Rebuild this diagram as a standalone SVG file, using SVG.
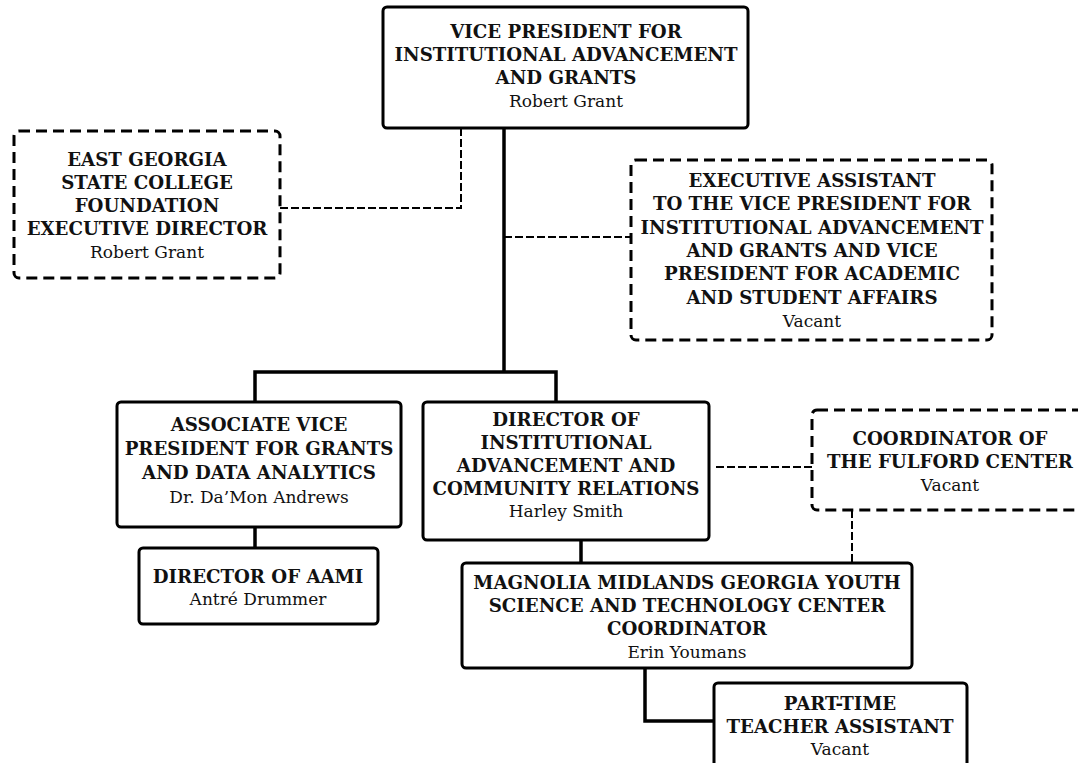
<svg xmlns="http://www.w3.org/2000/svg" width="1078" height="763" viewBox="0 0 1078 763">
<style>
.box{fill:#fff;stroke:#000;stroke-width:3}
.dbox{fill:#fff;stroke:#000;stroke-width:3;stroke-dasharray:11 6}
.t{font-family:"DejaVu Serif","Liberation Serif",serif;font-weight:bold;font-size:18.2px;text-anchor:middle;fill:#111}
.n{font-family:"DejaVu Serif","Liberation Serif",serif;font-size:17px;text-anchor:middle;fill:#111}
.solid{fill:none;stroke:#000;stroke-width:3.5}
.dash{fill:none;stroke:#000;stroke-width:2;stroke-dasharray:8 3}
</style>
<rect width="1078" height="763" fill="#fff"/>
<g id="connectors">
<path class="dash" d="M461,128 V208 H280"/>
<path class="solid" d="M504,128 V372"/>
<path class="dash" d="M504,237 H631"/>
<path class="solid" d="M255,402 V372 H556 V402"/>
<path class="solid" d="M255,527 V548"/>
<path class="solid" d="M581,540 V563"/>
<path class="dash" d="M716,467 H812"/>
<path class="dash" d="M852,510 V563"/>
<path class="solid" d="M645,668 V721 H714"/>
</g>
<g id="vp">
<rect class="box" x="383" y="7" width="365" height="121" rx="4"/>
<text class="t" x="566" y="38">VICE PRESIDENT FOR</text>
<text class="t" x="566" y="61">INSTITUTIONAL ADVANCEMENT</text>
<text class="t" x="566" y="84">AND GRANTS</text>
<text class="n" x="566" y="107">Robert Grant</text>
</g>
<g id="foundation">
<rect class="dbox" x="14" y="131" width="266" height="147" rx="5"/>
<text class="t" x="147" y="166">EAST GEORGIA</text>
<text class="t" x="147" y="189">STATE COLLEGE</text>
<text class="t" x="147" y="212">FOUNDATION</text>
<text class="t" x="147" y="235">EXECUTIVE DIRECTOR</text>
<text class="n" x="147" y="258">Robert Grant</text>
</g>
<g id="exec-assistant">
<rect class="dbox" x="631" y="160" width="361" height="180" rx="5"/>
<text class="t" x="812" y="187">EXECUTIVE ASSISTANT</text>
<text class="t" x="812" y="210">TO THE VICE PRESIDENT FOR</text>
<text class="t" x="812" y="234">INSTITUTIONAL ADVANCEMENT</text>
<text class="t" x="812" y="257">AND GRANTS AND VICE</text>
<text class="t" x="812" y="280">PRESIDENT FOR ACADEMIC</text>
<text class="t" x="812" y="304">AND STUDENT AFFAIRS</text>
<text class="n" x="812" y="327">Vacant</text>
</g>
<g id="avp">
<rect class="box" x="117" y="402" width="284" height="125" rx="4"/>
<text class="t" x="259" y="431">ASSOCIATE VICE</text>
<text class="t" x="259" y="455">PRESIDENT FOR GRANTS</text>
<text class="t" x="259" y="479">AND DATA ANALYTICS</text>
<text class="n" x="259" y="503">Dr. Da’Mon Andrews</text>
</g>
<g id="director-ia">
<rect class="box" x="423" y="402" width="286" height="138" rx="4"/>
<text class="t" x="566" y="426">DIRECTOR OF</text>
<text class="t" x="566" y="449">INSTITUTIONAL</text>
<text class="t" x="566" y="472">ADVANCEMENT AND</text>
<text class="t" x="566" y="495">COMMUNITY RELATIONS</text>
<text class="n" x="566" y="517">Harley Smith</text>
</g>
<g id="fulford">
<rect class="dbox" x="812" y="410" width="290" height="100" rx="5"/>
<text class="t" x="950" y="445">COORDINATOR OF</text>
<text class="t" x="950" y="468">THE FULFORD CENTER</text>
<text class="n" x="950" y="491">Vacant</text>
</g>
<g id="aami">
<rect class="box" x="139" y="548" width="239" height="76" rx="4"/>
<text class="t" x="258" y="583">DIRECTOR OF AAMI</text>
<text class="n" x="258" y="605">Antré Drummer</text>
</g>
<g id="magnolia">
<rect class="box" x="462" y="563" width="450" height="105" rx="4"/>
<text class="t" x="687" y="589">MAGNOLIA MIDLANDS GEORGIA YOUTH</text>
<text class="t" x="687" y="612">SCIENCE AND TECHNOLOGY CENTER</text>
<text class="t" x="687" y="635">COORDINATOR</text>
<text class="n" x="687" y="658">Erin Youmans</text>
</g>
<g id="part-time">
<rect class="box" x="714" y="683" width="253" height="85" rx="4"/>
<text class="t" x="840" y="710">PART-TIME</text>
<text class="t" x="840" y="733">TEACHER ASSISTANT</text>
<text class="n" x="840" y="755">Vacant</text>
</g>
</svg>
